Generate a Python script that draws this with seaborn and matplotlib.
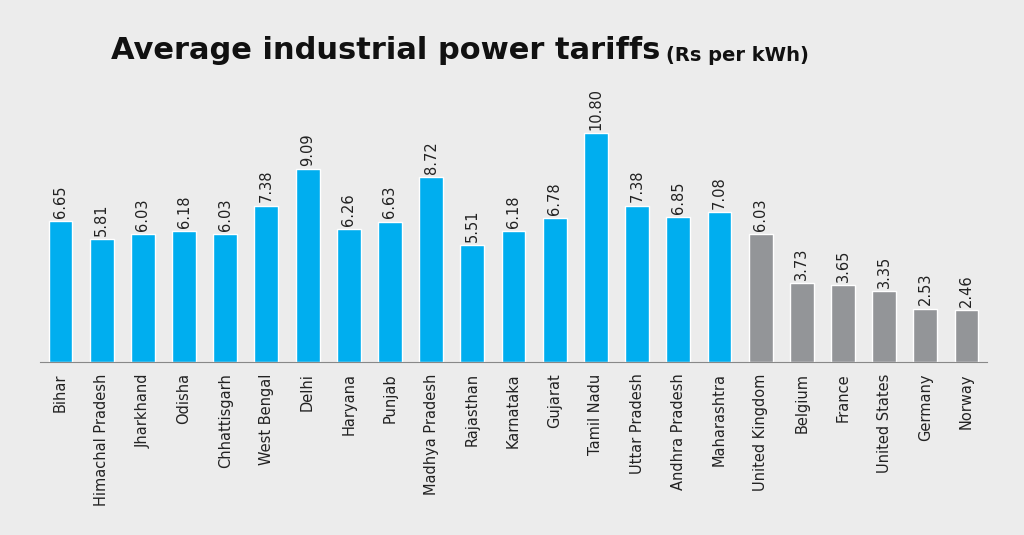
import matplotlib
matplotlib.use("Agg")
import matplotlib.pyplot as plt
import seaborn as sns
import pandas as pd

states = ["Bihar", "Himachal Pradesh", "Jharkhand", "Odisha", "Chhattisgarh", "West Bengal",
          "Delhi", "Haryana", "Punjab", "Madhya Pradesh", "Rajasthan", "Karnataka", "Gujarat",
          "Tamil Nadu", "Uttar Pradesh", "Andhra Pradesh", "Maharashtra", "United Kingdom",
          "Belgium", "France", "United States", "Germany", "Norway"]
tariffs = [6.65, 5.81, 6.03, 6.18, 6.03, 7.38, 9.09, 6.26, 6.63, 8.72, 5.51, 6.18, 6.78,
           10.80, 7.38, 6.85, 7.08, 6.03, 3.73, 3.65, 3.35, 2.53, 2.46]
n_india = 17

df = pd.DataFrame({"place": states, "tariff": tariffs})
colors = ["#00aeef"] * n_india + ["#939598"] * (len(states) - n_india)

sns.set_style("white")
bg = "#ececec"
fig = plt.figure(figsize=(10.24, 5.35), dpi=100, facecolor=bg)
ax = fig.add_axes([0.039, 0.323, 0.925, 0.49], facecolor=bg)

sns.barplot(data=df, x="place", y="tariff", hue="place", palette=colors,
            legend=False, width=0.58, saturation=1, ax=ax)

for i, v in enumerate(tariffs):
    ax.text(i, v + 0.15, f"{v:.2f}", rotation=90, ha="center", va="bottom",
            fontsize=10.5, family=["Liberation Sans Narrow", "DejaVu Sans"], color="#222222")

ax.set_xlim(-0.5, len(states) - 0.5)
ax.set_ylim(0, 12.36)
ax.set_yticks([])
ax.set_xlabel("")
ax.set_ylabel("")
ax.set_xticks(range(len(states)))
ax.set_xticklabels(states, rotation=90, fontsize=10.5,
                   family=["Liberation Sans Narrow", "DejaVu Sans"], color="#222222")
ax.tick_params(axis="x", length=0, pad=8)
for s in ["top", "right", "left"]:
    ax.spines[s].set_visible(False)
ax.spines["bottom"].set_color("#888888")
ax.spines["bottom"].set_linewidth(0.8)

fig.text(0.645, 0.905, "Average industrial power tariffs", ha="right", va="center",
         fontsize=22, fontweight="bold", family=["Liberation Sans Narrow", "DejaVu Sans"],
         color="#111111")
fig.text(0.65, 0.897, "(Rs per kWh)", ha="left", va="center", fontsize=14,
         fontweight="bold", family=["Liberation Sans Narrow", "DejaVu Sans"], color="#111111")

fig.savefig("out.png", dpi=100, facecolor=bg)
